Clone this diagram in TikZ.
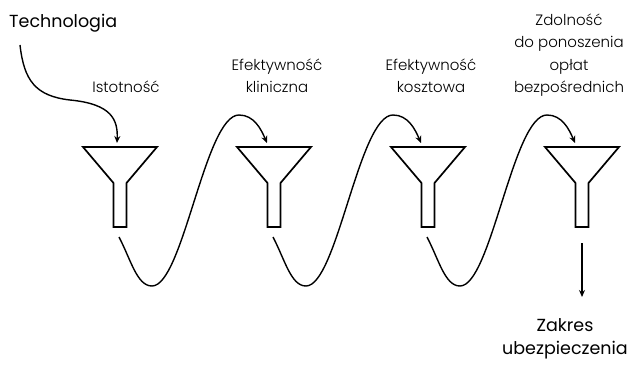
\documentclass[tikz,border=0pt]{standalone}
\usepackage{fontspec}
\setmainfont{Poppins}
\newfontfamily\thinfont{Poppins Light}
\usetikzlibrary{arrows.meta}

\tikzset{
  funnel/.style={draw=black, line width=1.7pt, line join=miter},
  flow/.style={draw=black, line width=1.4pt, -{Stealth[length=7pt,width=6pt]}},
  stage/.style={font=\thinfont\fontsize{15}{22.5}\selectfont, align=center, anchor=south, inner sep=0pt, text depth=0pt},
  headline/.style={font=\fontsize{17.5}{23}\selectfont, align=center, inner sep=0pt}
}

\begin{document}
\begin{tikzpicture}[x=1pt, y=-1pt]
  \useasboundingbox (0,0) rectangle (629,369);

  % four funnels, 154 apart
  \foreach \i in {1,...,4} {
    \pgfmathsetmacro{\cx}{120+154*(\i-1)}
    \draw[funnel] (\cx-37,147) -- (\cx+37,147) -- (\cx+6.5,183) -- (\cx+6.5,227)
      -- (\cx-6.5,227) -- (\cx-6.5,183) -- cycle;
    \coordinate (f\i-in) at (\cx-7,143);
    \coordinate (f\i-out) at (\cx-1,237);
    \coordinate (lo\i) at (\cx+32,286);
    \coordinate (hi\i) at (\cx+119,115);
  }
  \coordinate (f1-in) at (117,143);

  % labels
  \node[headline, anchor=west] (tech) at (9,23) {Technologia};
  \node[stage] (s1) at (126,93) {Istotność};
  \node[stage] (s2) at (277,93) {Efektywność\\kliniczna};
  \node[stage] (s3) at (431,93) {Efektywność\\kosztowa};
  \node[stage] (s4) at (569,93) {Zdolność\\do ponoszenia\\opłat\\bezpośrednich};
  \node[headline] (cover) at (565,339) {Zakres\\ubezpieczenia};

  % entry into the first funnel
  \coordinate (techfoot) at (20,45);
  \coordinate (techbend) at (70,100);
  \draw[flow] (techfoot) .. controls +(4,35) and +(-35,-4) .. (techbend)
    .. controls +(42,4) and +(1,-23) .. (f1-in);

  % waves from each funnel into the next
  \foreach \i/\j in {1/2,2/3,3/4} {
    \draw[flow] (f\i-out) .. controls +(12,23) and +(-15,0) .. (lo\i)
      .. controls +(31,0) and +(-34,0) .. (hi\i)
      .. controls +(15,0) and +(-6,-14) .. (f\j-in);
  }

  % outlet of the last funnel
  \coordinate (f4-exit) at (582,243);
  \draw[flow] (f4-exit) -- (582,297);
\end{tikzpicture}
\end{document}
